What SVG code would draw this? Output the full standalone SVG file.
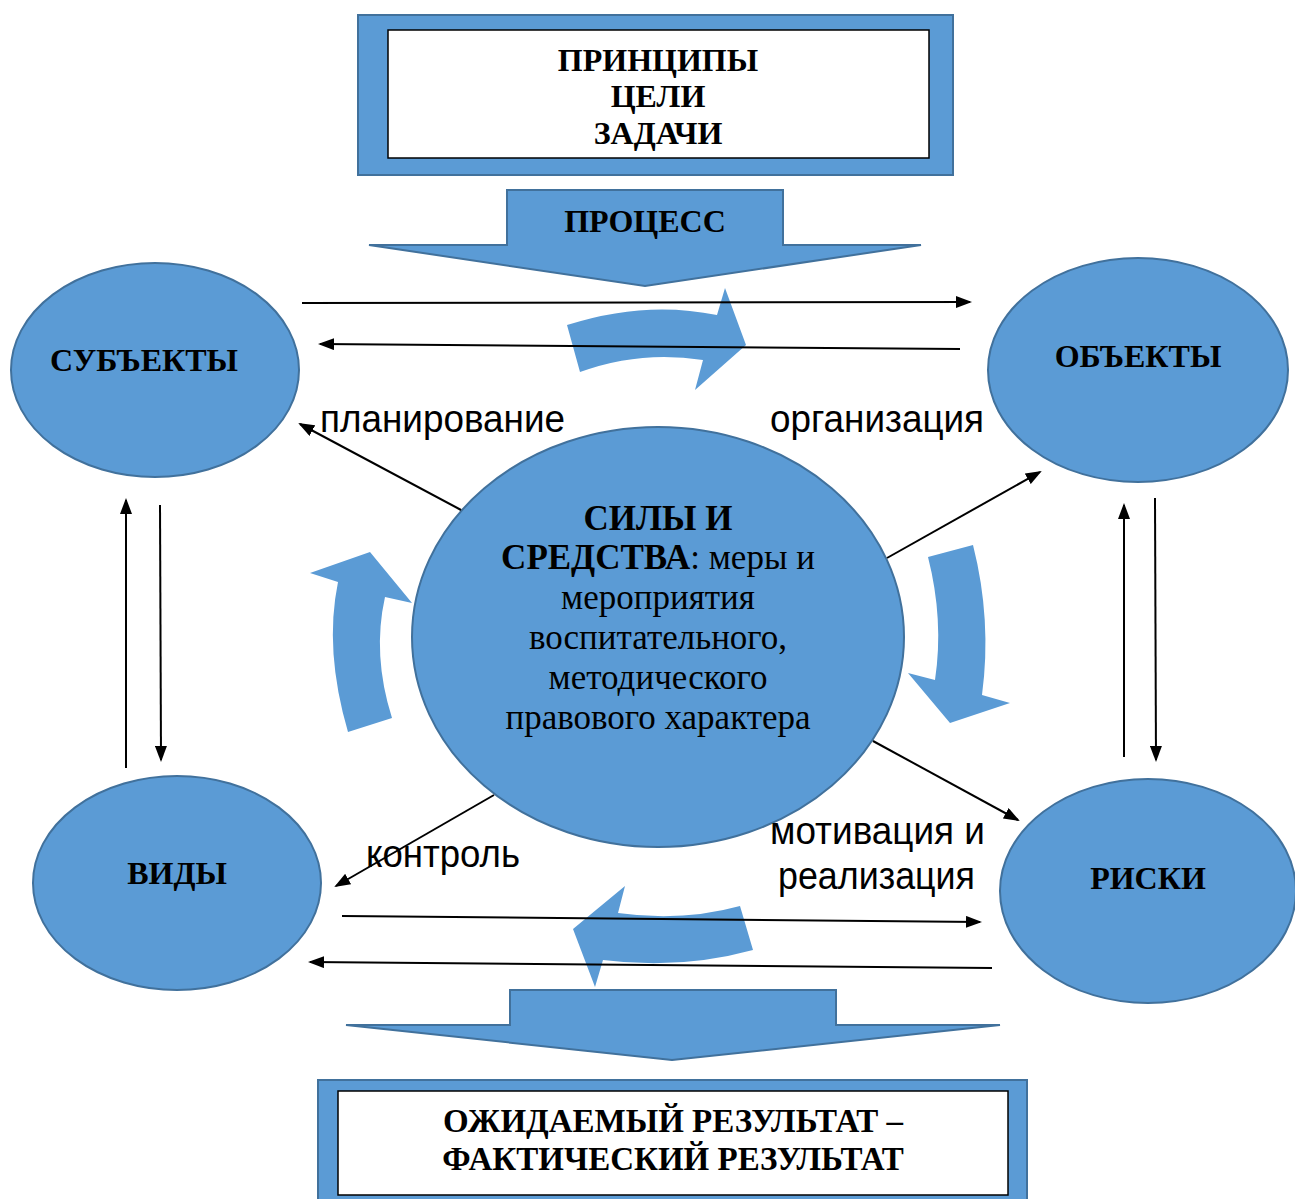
<svg xmlns="http://www.w3.org/2000/svg" width="1295" height="1199" viewBox="0 0 1295 1199">
<style>
.blue{fill:#5B9BD5;stroke:#41719C;stroke-width:2}
.frame{fill:#5B9BD5;stroke:#41719C;stroke-width:2}
.white{fill:#fff;stroke:#000;stroke-width:1.5}
.curve{fill:#5B9BD5;stroke:none}
.b{font-family:"Liberation Serif","Times New Roman",serif;font-weight:bold;font-size:32px;fill:#000;text-anchor:middle}
.r{font-family:"Liberation Serif","Times New Roman",serif;font-size:35px;fill:#000;text-anchor:middle}
.s{font-family:"Liberation Sans",Arial,sans-serif;font-size:38px;fill:#000}
.con{stroke:#000;stroke-width:2;fill:none;marker-end:url(#ah)}
</style>
<defs>
<marker id="ah" markerWidth="16" markerHeight="12" refX="14" refY="6" orient="auto" markerUnits="userSpaceOnUse">
<path d="M0,0 L16,6 L0,12 Z" fill="#000"/>
</marker>
</defs>
<rect width="1295" height="1199" fill="#fff"/>

<g id="top-box">
<rect class="frame" x="358" y="15" width="595" height="160"/>
<rect class="white" x="388" y="30" width="541" height="128"/>
<text class="b" x="658" y="71">ПРИНЦИПЫ</text>
<text class="b" x="658" y="107">ЦЕЛИ</text>
<text class="b" x="658" y="144">ЗАДАЧИ</text>
</g>

<g id="process-arrow">
<path class="blue" d="M507,190 L783,190 L783,245 L921,245 L645,286 L369,245 L507,245 Z"/>
<text class="b" x="645" y="232">ПРОЦЕСС</text>
</g>

<g id="curved-arrows">
<path class="curve" d="M567,325 Q645,300 717,315 L725,288 L746,345 L695,390 L703,360 Q640,350 580,372 Z"/>
<path class="curve" d="M928,557 L973,545 Q992,620 982,695 L1010,703 L950,723 L908,673 L935,680 Q944,620 928,557 Z"/>
<path class="curve" d="M370,552 L412,603 L385,597 Q372,655 392,718 L348,732 Q324,650 338,582 L310,573 Z"/>
<path class="curve" d="M573,929 L625,886 L618,913 Q682,922 740,906 L753,950 Q680,970 603,960 L595,987 Z"/>
</g>

<g id="subjects">
<ellipse class="blue" cx="155" cy="370" rx="144" ry="107"/>
<text class="b" x="144" y="371">СУБЪЕКТЫ</text>
</g>
<g id="objects">
<ellipse class="blue" cx="1138" cy="370" rx="150" ry="112"/>
<text class="b" x="1138" y="367">ОБЪЕКТЫ</text>
</g>
<g id="types">
<ellipse class="blue" cx="177" cy="883" rx="144" ry="107"/>
<text class="b" x="177" y="884">ВИДЫ</text>
</g>
<g id="risks">
<ellipse class="blue" cx="1148" cy="891" rx="148" ry="112"/>
<text class="b" x="1148" y="889">РИСКИ</text>
</g>
<g id="center">
<ellipse class="blue" cx="658" cy="637" rx="246" ry="210"/>
<text class="b" x="658" y="530" style="font-size:35px">СИЛЫ И</text>
<text class="r" x="658" y="569"><tspan font-weight="bold">СРЕДСТВА</tspan>: меры и</text>
<text class="r" x="658" y="609">мероприятия</text>
<text class="r" x="658" y="649">воспитательного,</text>
<text class="r" x="658" y="689">методического</text>
<text class="r" x="658" y="729">правового характера</text>
</g>

<g id="connectors">
<line class="con" x1="302" y1="303" x2="970" y2="302"/>
<line class="con" x1="960" y1="349" x2="320" y2="344"/>
<line class="con" x1="461" y1="510" x2="300" y2="424"/>
<line class="con" x1="887" y1="558" x2="1040" y2="472"/>
<line class="con" x1="873" y1="741" x2="1018" y2="820"/>
<line class="con" x1="494" y1="795" x2="336" y2="886"/>
<line class="con" x1="126" y1="768" x2="126" y2="500"/>
<line class="con" x1="160" y1="505" x2="161" y2="760"/>
<line class="con" x1="1124" y1="757" x2="1124" y2="505"/>
<line class="con" x1="1155" y1="498" x2="1156" y2="760"/>
<line class="con" x1="342" y1="916" x2="980" y2="922"/>
<line class="con" x1="992" y1="968" x2="310" y2="962"/>
</g>

<g id="labels">
<text class="s" x="320" y="432" textLength="245" lengthAdjust="spacingAndGlyphs">планирование</text>
<text class="s" x="770" y="432" textLength="214" lengthAdjust="spacingAndGlyphs">организация</text>
<text class="s" x="366" y="867" textLength="154" lengthAdjust="spacingAndGlyphs">контроль</text>
<text class="s" x="770" y="844" textLength="215" lengthAdjust="spacingAndGlyphs">мотивация и</text>
<text class="s" x="778" y="889" textLength="197" lengthAdjust="spacingAndGlyphs">реализация</text>
</g>

<g id="result-arrow">
<path class="blue" d="M510,990 L836,990 L836,1025 L1000,1025 L672,1060 L346,1025 L510,1025 Z"/>
</g>

<g id="bottom-box">
<rect class="frame" x="318" y="1080" width="709" height="125"/>
<rect class="white" x="338" y="1091" width="670" height="104"/>
<text class="b" x="673" y="1132" style="font-size:33px">ОЖИДАЕМЫЙ РЕЗУЛЬТАТ –</text>
<text class="b" x="673" y="1170" style="font-size:33px">ФАКТИЧЕСКИЙ РЕЗУЛЬТАТ</text>
</g>
</svg>
